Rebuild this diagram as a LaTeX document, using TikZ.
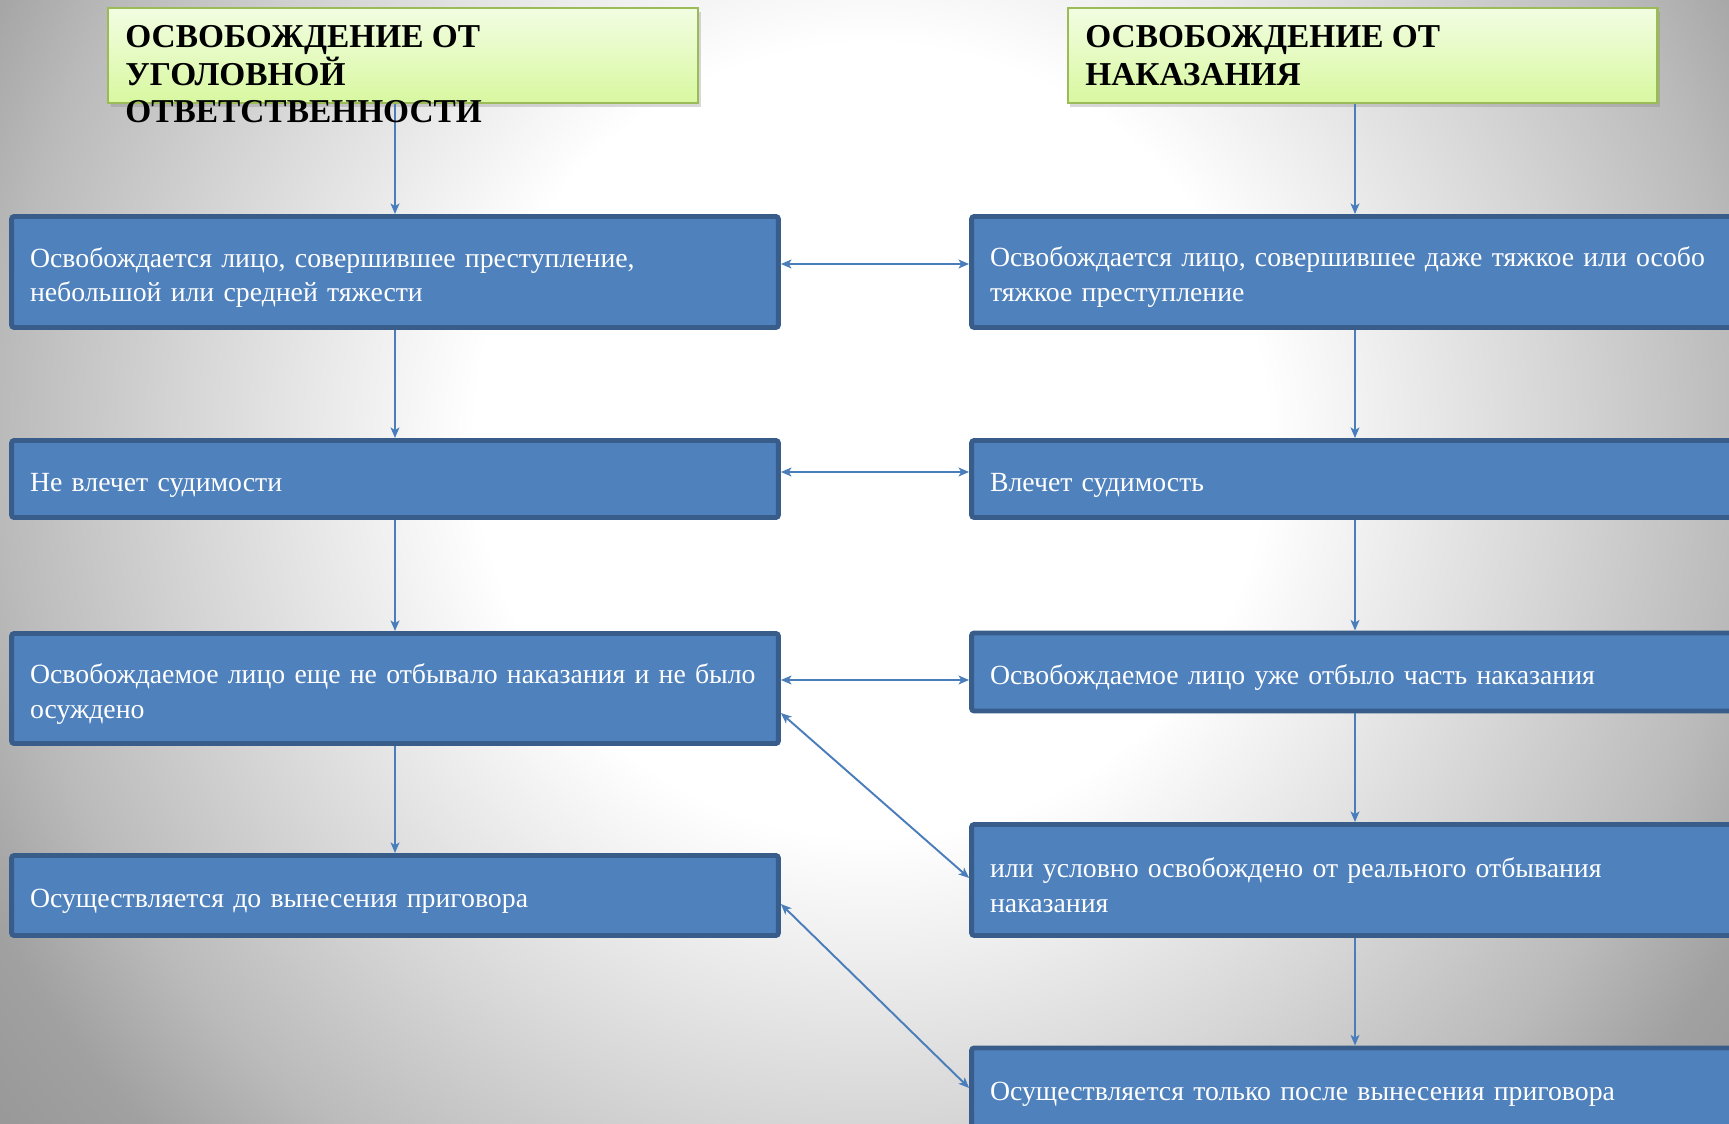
\documentclass[tikz,border=0pt]{standalone}
\usepackage{fontspec}
\setmainfont{Liberation Serif}
\usetikzlibrary{shadows,arrows.meta}

\definecolor{boxblue}{HTML}{4F81BD}
\definecolor{boxedge}{HTML}{385D8A}
\definecolor{arrowblue}{HTML}{4A7EBB}
\definecolor{headtop}{HTML}{F2FDE2}
\definecolor{headbot}{HTML}{D8F8A0}
\definecolor{headedge}{HTML}{9BBB59}
\pgfdeclareradialshading{slidebg}{\pgfpoint{0bp}{0bp}}{color(0bp)=(white); color(9bp)=(white); color(15.5bp)=(black!16); color(19.8bp)=(black!27); color(22.7bp)=(black!37); color(25bp)=(black!40); color(50bp)=(black!42)}

\begin{document}
\begin{tikzpicture}[x=0.02cm, y=-0.02cm,
  box/.style={draw=boxedge, fill=boxblue, line width=2.8pt, rounded corners=1.5pt,
    minimum width=15.34cm, text width=14.6cm, inner xsep=0.37cm, align=left,
    text=white, font=\fontsize{15.8}{19.8}\selectfont,
    execute at begin node={\rule{0pt}{17.5pt}}},
  head/.style={draw=headedge, line width=1.2pt, top color=headtop, bottom color=headbot,
    minimum width=11.8cm, minimum height=1.9cm,
    drop shadow={opacity=0.3, shadow xshift=1.5pt, shadow yshift=-2.5pt}},
  headtext/.style={anchor=north west, align=left, inner sep=0pt,
    font=\fontsize{19}{21.5}\selectfont\bfseries},
  link/.style={arrowblue, line width=1.1pt, >={Stealth[length=6pt,width=5pt,inset=1.5pt]}}]

  \useasboundingbox (0,0) rectangle (1729,1124);
  % background
  \begin{scope}
    \clip (0,0) rectangle (1729,1124);
    \shade[shading=slidebg] (-229,-660) rectangle (1971,1540);
  \end{scope}

  % headers
  \node[head] (hL) at (403,55.5) {};
  \node[head] (hR) at (1362.5,55.5) {};

  % left column
  \node[box, minimum height=2.22cm] (L1) at (395,272) {Освобождается лицо, совершившее преступление,\\ небольшой или средней тяжести};
  \node[box, minimum height=1.54cm] (L2) at (395,479) {Не влечет судимости};
  \node[box, minimum height=2.2cm] (L3) at (395,688.5) {Освобождаемое лицо еще не отбывало наказания и не было\\ осуждено};
  \node[box, minimum height=1.6cm] (L4) at (395,895.5) {Осуществляется до вынесения приговора};

  % right column
  \node[box, minimum height=2.22cm] (R1) at (1355,272) {Освобождается лицо, совершившее даже тяжкое или особо\\ тяжкое преступление};
  \node[box, minimum height=1.54cm] (R2) at (1355,479) {Влечет судимость};
  \node[box, minimum height=1.56cm] (R3) at (1355,672) {Освобождаемое лицо уже отбыло часть наказания};
  \node[box, minimum height=2.22cm] (R4) at (1355,880) {или условно освобождено от реального отбывания\\ наказания};
  \node[box, minimum height=1.6cm] (R5) at (1355,1088) {Осуществляется только после вынесения приговора};

  % down arrows
  \draw[link, ->] (hL.south -| L1.north) -- (L1.north);
  \draw[link, ->] (L1) -- (L2);
  \draw[link, ->] (L2) -- (L3);
  \draw[link, ->] (L3) -- (L4);
  \draw[link, ->] (hR.south -| R1.north) -- (R1.north);
  \draw[link, ->] (R1) -- (R2);
  \draw[link, ->] (R2) -- (R3);
  \draw[link, ->] (R3) -- (R4);
  \draw[link, ->] (R4) -- (R5);

  % comparisons
  \draw[link, <->] ([yshift=0.16cm]L1.east) -- ([yshift=0.16cm]R1.west);
  \draw[link, <->] ([yshift=0.14cm]L2.east) -- ([yshift=0.14cm]R2.west);
  \draw[link, <->] ([yshift=0.17cm]L3.east) -- ([yshift=-0.16cm]R3.west);
  \draw[link, <->] ([yshift=-0.49cm]L3.east) -- ([yshift=0.04cm]R4.west);
  \draw[link, <->] ([yshift=-0.17cm]L4.east) -- (R5.west);

  % header titles
  \node[headtext] (tL) at (125,25) {ОСВОБОЖДЕНИЕ ОТ\\ УГОЛОВНОЙ\\ ОТВЕТСТВЕННОСТИ};
  \node[headtext] (tR) at (1085,25) {ОСВОБОЖДЕНИЕ ОТ\\ НАКАЗАНИЯ};

\end{tikzpicture}
\end{document}
